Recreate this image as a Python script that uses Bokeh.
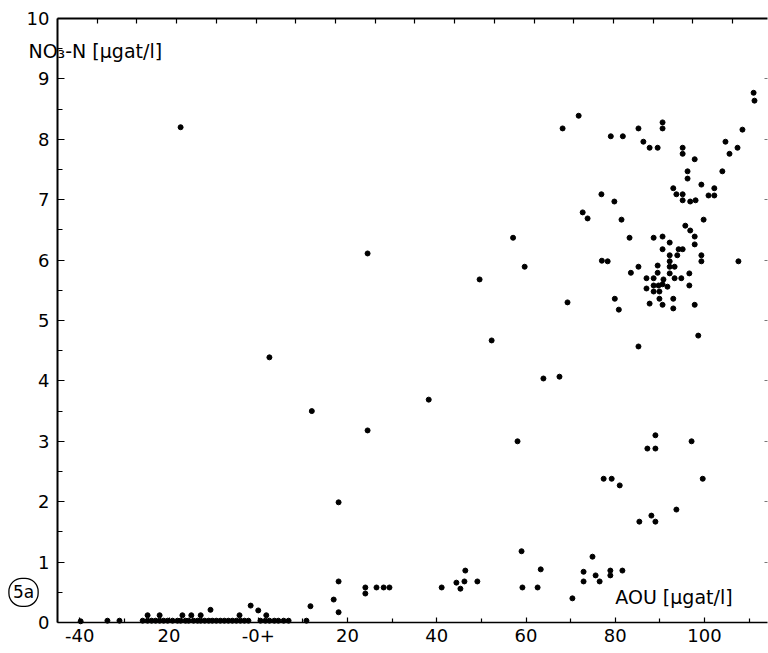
from bokeh.plotting import figure
from bokeh.models import LinearAxis, FixedTicker, Range1d, Label
from bokeh.embed import file_html
from bokeh.resources import INLINE

# AOU (µgat/l) and NO3-N (µgat/l) station samples
aou = [
    -17.4, 24.5, 49.6, 52.3, 2.5, 38.2, 85.2, 98.6, 63.9, 67.5,
    58.1, 89.0, 87.2, 89.0, 97.1, 77.4, 79.2, 81.0, 93.7, 88.1,
    85.4, 89.0, 99.6, 59.0, 41.1, 44.4, 46.4, 46.2, 45.3, 49.1,
    59.2, 62.6, 63.3, 70.4, 72.9, 72.9, 74.9, 75.6, 76.5, 78.9,
    78.9, 81.6, 18.0, 18.0, 16.9, 24.0, 24.0, 26.5, 28.1, 29.4,
    18.0, 12.0, 24.5, 57.1, 59.7,
    111.0, 111.2, 90.6, 90.6, 108.5, 104.7, 107.4, 105.6, 95.1, 95.1,
    97.8, 96.2, 104.0, 96.2, 99.3, 93.0, 102.2, 93.7, 95.1, 100.9,
    102.2, 95.1, 96.8, 98.0, 99.8, 95.7, 96.8, 97.8, 90.6, 92.2,
    97.8, 90.6, 94.2, 95.1, 99.3, 99.3, 107.6, 92.2, 93.9, 92.2,
    92.2, 93.3, 92.2, 96.6, 93.3, 94.8, 96.6, 90.8, 91.7, 93.0,
    90.6, 93.0, 97.8, 71.8, 68.2, 79.0, 81.7, 85.2, 86.3, 87.7,
    89.5, 76.9, 79.8, 72.7, 73.8, 81.4, 83.2, 88.6, 77.0, 78.3,
    85.2, 89.5, 83.5, 89.5, 87.0, 88.6, 88.6, 89.7, 90.6, 87.0,
    88.6, 89.9, 89.9, 87.7, 69.3, 79.9, 80.8,
    -10.7, -1.7, 0.0, 11.7, -39.8, -33.8, -31.1,
    -24.8, -22.1, -17.0, -15.0, -12.9, -4.2, 1.8,
    -25.9, -24.8, -23.9, -23.0, -22.1, -21.2, -20.3, -19.2, -18.1, -17.4,
    -16.3, -15.6, -14.5, -13.6, -12.9, -12.0, -11.1, -10.3, -9.4, -8.5,
    -7.6, -6.7, -5.8, -4.9, -4.0, -3.1, -2.2, 0.5, 1.6, 2.5,
    3.6, 4.5, 5.7, 6.8, 10.8,
]
no3 = [
    8.20, 6.11, 5.68, 4.67, 4.39, 3.69, 4.57, 4.75, 4.04, 4.07,
    3.00, 3.10, 2.88, 2.88, 3.00, 2.38, 2.38, 2.27, 1.87, 1.77,
    1.67, 1.67, 2.38, 1.18, 0.58, 0.66, 0.86, 0.68, 0.56, 0.68,
    0.58, 0.58, 0.88, 0.40, 0.84, 0.68, 1.09, 0.78, 0.68, 0.86,
    0.78, 0.86, 1.99, 0.68, 0.38, 0.58, 0.48, 0.58, 0.58, 0.58,
    0.17, 3.50, 3.18, 6.37, 5.89,
    8.77, 8.64, 8.28, 8.18, 8.16, 7.96, 7.86, 7.76, 7.86, 7.76,
    7.67, 7.47, 7.47, 7.35, 7.25, 7.19, 7.19, 7.09, 7.09, 7.07,
    7.07, 6.99, 6.97, 6.99, 6.67, 6.57, 6.49, 6.39, 6.39, 6.29,
    6.26, 6.18, 6.18, 6.18, 6.08, 5.98, 5.98, 6.08, 6.08, 5.98,
    5.89, 5.89, 5.78, 5.78, 5.70, 5.70, 5.58, 5.68, 5.56, 5.36,
    5.26, 5.20, 5.26, 8.39, 8.18, 8.05, 8.05, 8.18, 7.96, 7.86,
    7.86, 7.09, 6.97, 6.79, 6.69, 6.67, 6.37, 6.37, 5.99, 5.98,
    5.89, 5.91, 5.79, 5.79, 5.70, 5.70, 5.58, 5.58, 5.60, 5.53,
    5.48, 5.48, 5.36, 5.28, 5.30, 5.36, 5.18,
    0.21, 0.28, 0.20, 0.27, 0.02, 0.03, 0.03,
    0.12, 0.12, 0.12, 0.12, 0.12, 0.12, 0.12,
    0.03, 0.03, 0.03, 0.03, 0.03, 0.03, 0.03, 0.03, 0.03, 0.03,
    0.03, 0.03, 0.03, 0.03, 0.03, 0.03, 0.03, 0.03, 0.03, 0.03,
    0.03, 0.03, 0.03, 0.03, 0.03, 0.03, 0.03, 0.03, 0.03, 0.03,
    0.03, 0.03, 0.03, 0.03, 0.03,
]

# axis extents, ticks and labels
X_MIN, X_MAX = -45, 114.1
Y_MIN, Y_MAX = 0, 10
x_major = [-40, -20, 0, 20, 40, 60, 80, 100]
x_minor = [-30, -10, 10, 30, 50, 70, 90, 110]
x_labels = ["-40", "20", "-0+", "20", "40", "60", "80", "100"]
y_major = [0, 1, 2, 3, 4, 5, 6, 7, 8, 9, 10]
y_minor = [0.5, 1.5, 2.5, 3.5, 4.5, 5.5, 6.5, 7.5, 8.5, 9.5]
top_ticks = [-36.1, -27.2, -18.3, -9.4, -0.5, 8.4, 17.3, 26.2, 35.1, 44.0,
             52.9, 61.8, 70.7, 79.6, 88.5, 97.4, 106.3]
right_ticks = [1, 2, 3, 4, 5, 6, 7, 8, 9]

FONT = "DejaVu Sans"
FS = "18px"

# the frame covers the whole canvas; axes sit at fixed data positions
p = figure(width=768, height=653, output_backend="svg", toolbar_location=None,
           x_range=Range1d(-57.76, 114.34), y_range=Range1d(-0.513, 10.298),
           min_border_left=0, min_border_right=0,
           min_border_top=0, min_border_bottom=0)
p.outline_line_color = None
p.xgrid.visible = False
p.ygrid.visible = False
p.background_fill_color = "white"
p.border_fill_color = "white"

xa = p.xaxis[0]
xa.fixed_location = Y_MIN
xa.bounds = (X_MIN, X_MAX)
xa.ticker = FixedTicker(ticks=x_major, minor_ticks=x_minor)
xa.major_label_overrides = {t: s for t, s in zip(x_major, x_labels)}
xa.major_tick_in = 5
xa.major_tick_out = 0
xa.minor_tick_in = 4
xa.minor_tick_out = 0
xa.axis_line_width = 1.5
xa.major_tick_line_width = 1.2
xa.minor_tick_line_width = 1.2
xa.major_label_standoff = 6
xa.major_label_text_font = FONT
xa.major_label_text_font_size = FS
xa.major_label_text_color = "black"

ya = p.yaxis[0]
ya.fixed_location = X_MIN
ya.bounds = (Y_MIN, Y_MAX)
ya.ticker = FixedTicker(ticks=y_major, minor_ticks=y_minor)
ya.major_tick_in = 7
ya.major_tick_out = 0
ya.minor_tick_in = 5
ya.minor_tick_out = 0
ya.axis_line_width = 2
ya.major_tick_line_width = 1.2
ya.minor_tick_line_width = 1.2
ya.major_label_standoff = 8
ya.major_label_text_font = FONT
ya.major_label_text_font_size = FS
ya.major_label_text_color = "black"

top = LinearAxis(ticker=FixedTicker(ticks=top_ticks), fixed_location=Y_MAX,
                 bounds=(X_MIN, X_MAX),
                 major_label_overrides={t: "" for t in top_ticks},
                 major_label_text_font_size="0px", major_label_standoff=0,
                 major_tick_in=5, major_tick_out=0,
                 minor_tick_line_color=None, axis_line_width=2,
                 major_tick_line_width=1.2)
p.add_layout(top, "above")

right = LinearAxis(ticker=FixedTicker(ticks=right_ticks), fixed_location=X_MAX,
                   bounds=(Y_MIN, Y_MAX),
                   major_label_overrides={t: "" for t in right_ticks},
                   major_label_text_font_size="0px", major_label_standoff=0,
                   major_tick_in=3, major_tick_out=0,
                   minor_tick_line_color=None, axis_line_color=None,
                   major_tick_line_color="#777777")
p.add_layout(right, "right")

p.scatter(aou, no3, size=5, color="black")

p.add_layout(Label(x=-51.5, y=9.47, text="NO₃-N [µgat/l]", text_font=FONT,
                   text_font_size="19px", text_baseline="middle", text_align="left",
                   text_color="black"))
p.add_layout(Label(x=80.0, y=0.43, text="AOU [µgat/l]", text_font=FONT,
                   text_font_size="19px", text_baseline="middle", text_align="left",
                   text_color="black"))
p.add_layout(Label(x=-52.6, y=0.50, text="5a", text_font=FONT,
                   text_font_size="17px", text_baseline="middle", text_align="center",
                   text_color="black", border_line_color="black", border_line_width=1.3,
                   border_radius=13, padding=4))

open("out.html", "w").write(file_html(p, INLINE))
